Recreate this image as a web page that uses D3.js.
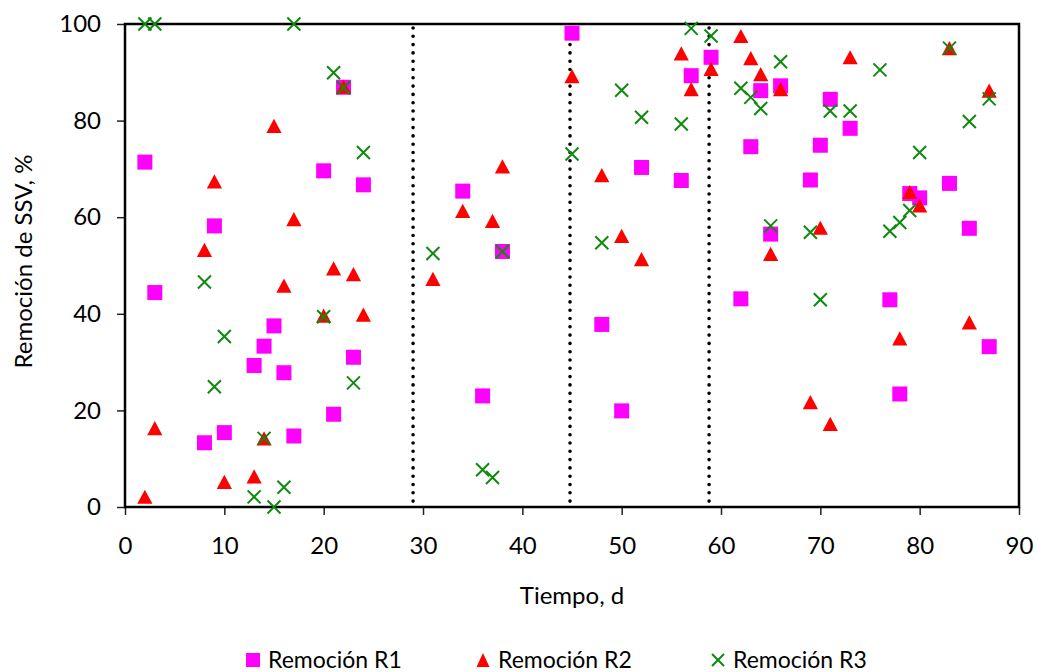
<!DOCTYPE html>
<html>
<head>
<meta charset="utf-8">
<script src="https://cdn.jsdelivr.net/npm/d3@7"></script>
<style>
  html, body { margin: 0; padding: 0; background: #fff; }
  #chart { width: 1038px; height: 672px; }
</style>
</head>
<body>
<div id="chart"></div>
<script>
// days sampled for each reactor
var diasR1 = [2, 3, 8, 9, 10, 13, 14, 15, 16, 17, 20, 21, 22, 23, 24, 34, 36, 38, 45, 48, 50, 52, 56, 57, 59,
    62, 63, 64, 65, 66, 69, 70, 71, 73, 77, 78, 79, 80, 83, 85, 87];
var remR1 = [71.4, 44.4, 13.3, 58.2, 15.4, 29.3, 33.3, 37.5, 27.8, 14.7, 69.6, 19.2, 86.9, 31.0, 66.7, 65.4, 23.0, 52.9, 98.1, 37.8, 19.9, 70.3, 67.6, 89.3, 93.1,
    43.1, 74.6, 86.2, 56.5, 87.2, 67.7, 74.9, 84.4, 78.4, 42.9, 23.4, 64.9, 64.0, 67.0, 57.7, 33.2];

var diasR2 = [2, 3, 8, 9, 10, 13, 14, 15, 16, 17, 20, 21, 22, 23, 24, 31, 34, 37, 38, 45, 48, 50, 52, 56, 57, 59,
    62, 63, 64, 65, 66, 69, 70, 71, 73, 78, 79, 80, 83, 85, 87];
var remR2 = [2.1, 16.3, 53.2, 67.4, 5.2, 6.3, 14.2, 78.9, 45.8, 59.6, 39.6, 49.4, 87.0, 48.2, 39.8, 47.2, 61.3, 59.2, 70.5, 89.2, 68.7, 56.1, 51.3, 93.9, 86.5, 90.7,
    97.5, 92.9, 89.6, 52.4, 86.5, 21.7, 57.8, 17.2, 93.1, 34.9, 65.2, 62.4, 95.0, 38.2, 86.2];

var diasR3 = [2, 3, 8, 9, 10, 13, 14, 15, 16, 17, 20, 21, 22, 23, 24, 31, 36, 37, 38, 45, 48, 50, 52, 56, 57, 59,
    62, 63, 64, 65, 66, 69, 70, 71, 73, 76, 77, 78, 79, 80, 83, 85, 87];
var remR3 = [100, 100, 46.6, 24.9, 35.3, 2.1, 14.2, 0, 4.1, 100, 39.4, 89.9, 86.8, 25.7, 73.4, 52.5, 7.7, 6.1, 52.9, 73.1, 54.7, 86.3, 80.7, 79.3, 99.1, 97.5,
    86.7, 84.8, 82.5, 58.2, 92.2, 56.9, 42.9, 82.0, 82.0, 90.5, 57.1, 58.9, 61.4, 73.4, 95.0, 79.8, 84.5];

// stage boundaries (dotted lines)
var etapas = [29, 44.8, 58.8];

var xTicks = [0, 10, 20, 30, 40, 50, 60, 70, 80, 90];
var yTicks = [0, 20, 40, 60, 80, 100];

var series = ["Remoción R1", "Remoción R2", "Remoción R3"];

var divWidth = 1038, divHeight = 672;
var padding = { left: 125, right: 19, top: 24, bottom: 165 };
var plotWidth = divWidth - padding.left - padding.right;
var plotHeight = divHeight - padding.top - padding.bottom;
var fontFamily = "Lato, 'Open Sans', sans-serif";

var x_scale = d3.scaleLinear().domain([0, 90]).range([0, plotWidth]);
var y_scale = d3.scaleLinear().domain([0, 100]).range([plotHeight, 0]);

var svg = d3.select("#chart")
    .append("svg")
    .attr("width", divWidth)
    .attr("height", divHeight);

var plot = svg.append("g")
    .attr("transform", "translate(" + padding.left + "," + padding.top + ")");

// axes
var x_axis = d3.axisBottom(x_scale).tickValues(xTicks).tickSize(8).tickSizeOuter(0).tickPadding(22);
var y_axis = d3.axisLeft(y_scale).tickValues(yTicks).tickSize(8).tickSizeOuter(0).tickPadding(16);

var gx = plot.append("g")
    .attr("transform", "translate(0," + plotHeight + ")")
    .call(x_axis);
var gy = plot.append("g").call(y_axis);

[gx, gy].forEach(function (g) {
    g.select(".domain").remove();
    g.selectAll("line").attr("stroke", "#222").attr("stroke-width", 1.5);
    g.selectAll("text")
        .attr("font-family", fontFamily)
        .attr("font-size", "24px")
        .attr("fill", "#000");
});

// dotted stage separators
plot.selectAll(".etapa")
    .data(etapas)
    .enter()
    .append("line")
    .attr("class", "etapa")
    .attr("x1", d => x_scale(d))
    .attr("x2", d => x_scale(d))
    .attr("y1", y_scale(100) + 4)
    .attr("y2", y_scale(0) - 4)
    .attr("stroke", "#000")
    .attr("stroke-width", 3.6)
    .attr("stroke-linecap", "round")
    .attr("stroke-dasharray", "0,8.3");

// frame
plot.append("rect")
    .attr("width", plotWidth)
    .attr("height", plotHeight)
    .attr("fill", "none")
    .attr("stroke", "#000")
    .attr("stroke-width", 2.5);

// markers
var colorR1 = "#ff00ff", colorR2 = "#ff0000", colorR3 = "#0e8a0e";
var trianglePath = "M0,-7.2L7.6,7L-7.6,7Z";
var crossPath = "M-6.5,-6.5L6.5,6.5M-6.5,6.5L6.5,-6.5";

plot.append("g").selectAll("rect")
    .data(diasR1.map((d, i) => [d, remR1[i]]))
    .enter()
    .append("rect")
    .attr("x", d => x_scale(d[0]) - 7.5)
    .attr("y", d => y_scale(d[1]) - 7.5)
    .attr("width", 15)
    .attr("height", 15)
    .attr("fill", colorR1);

plot.append("g").selectAll("path")
    .data(diasR2.map((d, i) => [d, remR2[i]]))
    .enter()
    .append("path")
    .attr("d", trianglePath)
    .attr("transform", d => "translate(" + x_scale(d[0]) + "," + y_scale(d[1]) + ")")
    .attr("fill", colorR2);

plot.append("g").selectAll("path")
    .data(diasR3.map((d, i) => [d, remR3[i]]))
    .enter()
    .append("path")
    .attr("d", crossPath)
    .attr("transform", d => "translate(" + x_scale(d[0]) + "," + y_scale(d[1]) + ")")
    .attr("fill", "none")
    .attr("stroke", colorR3)
    .attr("stroke-width", 2);

// axis titles
svg.append("text")
    .attr("x", padding.left + plotWidth / 2)
    .attr("y", 604)
    .attr("text-anchor", "middle")
    .attr("font-family", fontFamily)
    .attr("font-size", "24px")
    .attr("fill", "#000")
    .text("Tiempo, d");

svg.append("text")
    .attr("transform", "translate(32," + (padding.top + plotHeight / 2 - 4) + ") rotate(-90)")
    .attr("text-anchor", "middle")
    .attr("font-family", fontFamily)
    .attr("font-size", "24px")
    .attr("fill", "#000")
    .text("Remoción de SSV, %");

// legend
var legendX = [253, 483, 718];
var legend = svg.append("g").attr("transform", "translate(0,658)");
var items = legend.selectAll("g")
    .data(series)
    .enter()
    .append("g")
    .attr("transform", (d, i) => "translate(" + legendX[i] + ",0)");

items.each(function (d, i) {
    var g = d3.select(this);
    if (i === 0) {
        g.append("rect").attr("x", -7).attr("y", -5).attr("width", 14).attr("height", 14).attr("fill", colorR1);
    } else if (i === 1) {
        g.append("path").attr("d", "M0,-5L6.5,9L-6.5,9Z").attr("fill", colorR2);
    } else {
        g.append("path").attr("d", "M-6,-4L6,8M-6,8L6,-4").attr("fill", "none").attr("stroke", colorR3).attr("stroke-width", 2);
    }
});

items.append("text")
    .attr("x", 15)
    .attr("y", 2)
    .attr("dy", "0.36em")
    .attr("font-family", fontFamily)
    .attr("font-size", "23px")
    .attr("fill", "#000")
    .text(d => d);
</script>
</body>
</html>
